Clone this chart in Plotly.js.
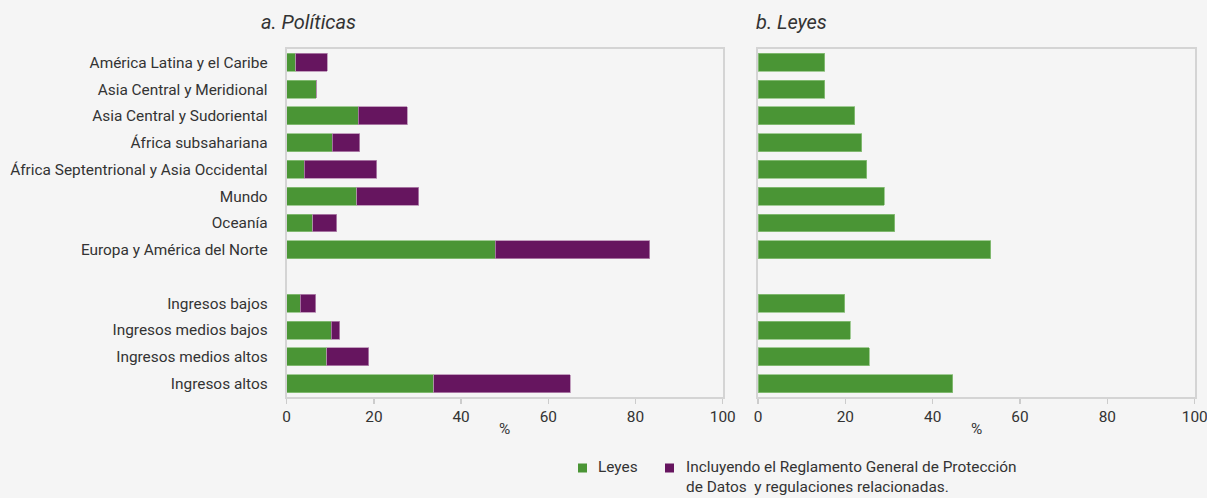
<!DOCTYPE html>
<html>
<head>
<meta charset="utf-8">
<script src="https://cdn.plot.ly/plotly-3.0.1.min.js"></script>
<style>html,body{margin:0;padding:0;background:#f5f5f5;}#chart{width:1207px;height:498px;}</style>
</head>
<body>
<div id="chart"></div>
<script>
// Categories (top to bottom); the blank entry is the gap between regions and income groups
const categories = [
  "América Latina y el Caribe",
  "Asia Central y Meridional",
  "Asia Central y Sudoriental",
  "África subsahariana",
  "África Septentrional y Asia Occidental",
  "Mundo",
  "Oceanía",
  "Europa y América del Norte",
  " ",
  "Ingresos bajos",
  "Ingresos medios bajos",
  "Ingresos medios altos",
  "Ingresos altos"
];
const barCategories = categories.filter(c => c.trim() !== "");

// a. Políticas
const politicasLeyes = [2.1, 6.8, 16.4, 10.5, 4.0, 16.1, 6.0, 47.8, 3.1, 10.2, 9.2, 33.7];
const politicasTotal = [9.3, 6.8, 27.6, 16.8, 20.6, 30.3, 11.5, 83.3, 6.7, 12.2, 18.8, 65.0];
const politicasRGPD = politicasTotal.map((t, i) => +(t - politicasLeyes[i]).toFixed(1));

// b. Leyes
const leyes = [15.3, 15.3, 22.1, 23.8, 24.9, 28.9, 31.3, 53.3, 19.9, 21.1, 25.5, 44.6];

const xTicks = [0, 20, 40, 60, 80, 100];
const legendLeyes = "Leyes";
const legendRGPD = "Incluyendo el Reglamento General de Protección<br>de Datos  y regulaciones relacionadas.";

const GREEN = "#4a9535";
const PURPLE = "#66155f";
const FONT = "Roboto, 'Open Sans', sans-serif";
const FS = 15.4;

const traces = [
  {type: "bar", orientation: "h", y: barCategories, x: politicasLeyes, name: legendLeyes,
   xaxis: "x", yaxis: "y", marker: {color: GREEN, line: {color: "#8cc07d", width: 0.8}},
   hoverinfo: "x+y"},
  {type: "bar", orientation: "h", y: barCategories, x: politicasRGPD, name: legendRGPD,
   xaxis: "x", yaxis: "y", marker: {color: PURPLE, line: {color: "#b58ab0", width: 0.8}},
   hoverinfo: "x+y"},
  {type: "bar", orientation: "h", y: barCategories, x: leyes, name: legendLeyes,
   xaxis: "x2", yaxis: "y2", marker: {color: GREEN, line: {color: "#8cc07d", width: 0.8}},
   hoverinfo: "x+y"}
];

const W = 1207, H = 498;
const px = v => v / W;
const py = v => 1 - v / H;

const xCommon = {
  range: [0, 100], tickvals: xTicks, ticks: "outside", ticklen: 5, tickcolor: "#cccccc",
  tickwidth: 1.5, showline: true, linecolor: "#d4d4d4", linewidth: 2, mirror: true,
  showgrid: false, zeroline: false, tickfont: {family: FONT, size: FS, color: "#333333"},
  ticklabeloverflow: "allow", fixedrange: true
};
const yCommon = {
  type: "category", categoryorder: "array", categoryarray: categories,
  range: [12.5, -0.5], showline: true, linecolor: "#d4d4d4", linewidth: 2, mirror: true,
  showgrid: false, zeroline: false, ticks: "", fixedrange: true
};

// Legend drawn as shapes + annotations, using the traces' names and colours
const legendItems = [
  {name: legendLeyes, color: GREEN, sx: 578, tx: 596},
  {name: legendRGPD, color: PURPLE, sx: 665, tx: 684}
];
const legendY = 468;
const legendShapes = legendItems.map(it => ({
  type: "rect", xref: "paper", yref: "paper",
  x0: px(it.sx), x1: px(it.sx + 9), y0: py(legendY + 4.5), y1: py(legendY - 4.5),
  fillcolor: it.color, line: {width: 0}
}));
const legendTexts = legendItems.map(it => ({
  text: it.name, xref: "paper", yref: "paper", x: px(it.tx), y: py(legendY - 12),
  xanchor: "left", yanchor: "top", align: "left", showarrow: false,
  font: {family: FONT, size: FS, color: "#333333", lineposition: "none"}
}));

const layout = {
  width: W, height: H,
  paper_bgcolor: "#f5f5f5", plot_bgcolor: "#f5f5f5",
  margin: {l: 0, r: 0, t: 0, b: 0},
  barmode: "stack", bargap: 0.33,
  font: {family: FONT, size: FS, color: "#333333"},
  showlegend: false,
  xaxis: Object.assign({}, xCommon, {domain: [px(286.7), px(722.7)], anchor: "y"}),
  xaxis2: Object.assign({}, xCommon, {domain: [px(758), px(1194.7)], anchor: "y2"}),
  yaxis: Object.assign({}, yCommon, {domain: [py(397), py(49)], anchor: "x",
    tickfont: {family: FONT, size: FS, color: "#333333"}, ticklabelstandoff: 14}),
  yaxis2: Object.assign({}, yCommon, {domain: [py(397), py(49)], anchor: "x2", showticklabels: false}),
  shapes: legendShapes,
  annotations: [
    {text: "<i>a. Políticas</i>", xref: "paper", yref: "paper", x: px(259), y: py(22),
     xanchor: "left", yanchor: "middle", showarrow: false, font: {family: FONT, size: 20, color: "#333333"}},
    {text: "<i>b. Leyes</i>", xref: "paper", yref: "paper", x: px(754), y: py(22),
     xanchor: "left", yanchor: "middle", showarrow: false, font: {family: FONT, size: 20, color: "#333333"}},
    {text: "%", xref: "paper", yref: "paper", x: px(504), y: py(429),
     xanchor: "center", yanchor: "middle", showarrow: false, font: {family: FONT, size: FS, color: "#333333"}},
    {text: "%", xref: "paper", yref: "paper", x: px(976), y: py(429),
     xanchor: "center", yanchor: "middle", showarrow: false, font: {family: FONT, size: FS, color: "#333333"}}
  ].concat(legendTexts)
};

Plotly.newPlot("chart", traces, layout, {displayModeBar: false, staticPlot: true});
</script>
</body>
</html>
